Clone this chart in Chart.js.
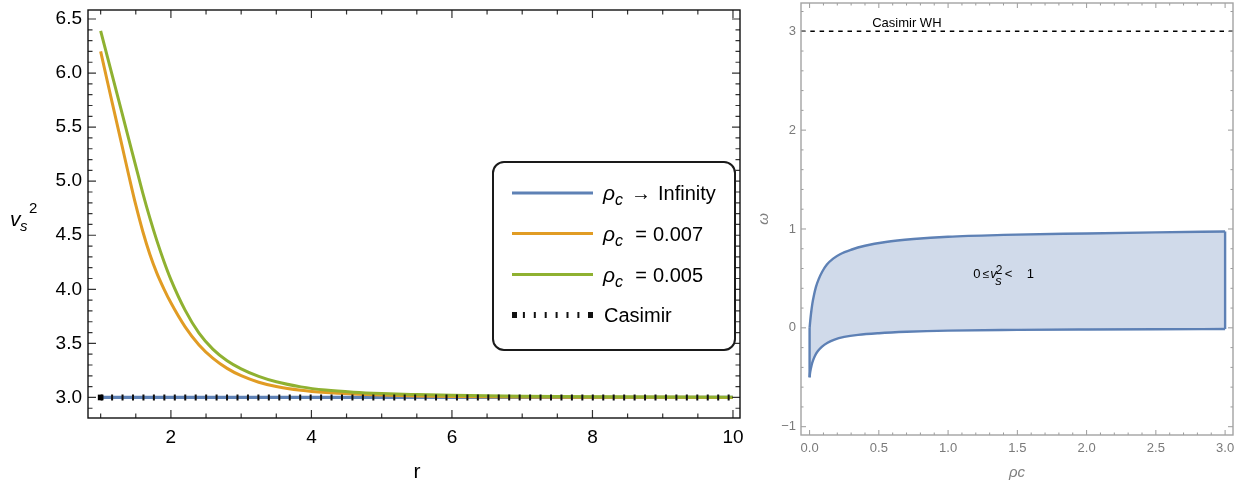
<!DOCTYPE html>
<html>
<head>
<meta charset="utf-8">
<script src="https://cdn.jsdelivr.net/npm/chart.js@4"></script>
<style>
  body { margin: 0; background: #fff; width: 1248px; height: 484px; overflow: hidden; position: relative; }
  #left { position: absolute; left: 0; top: 0; width: 760px; height: 484px; }
  #right { position: absolute; left: 760px; top: 0; width: 488px; height: 484px; }
</style>
</head>
<body>
<canvas id="left" width="760" height="484"></canvas>
<canvas id="right" width="488" height="484"></canvas>
<script>
// ---- left panel: v_s^2 against r ----
const rGrid = [1.0, 1.1, 1.2, 1.3, 1.4, 1.5, 1.6, 1.7, 1.8, 1.9, 2.0, 2.2, 2.4, 2.6, 2.8, 3.0,
  3.25, 3.5, 3.85, 4.2, 4.6, 5.0, 5.5, 6.0, 7.0, 8.0, 9.0, 10.0];
const vsRho007 = [6.20, 5.91, 5.625, 5.34, 5.055, 4.78, 4.535, 4.325, 4.15, 4.005, 3.875, 3.655, 3.485, 3.361, 3.269, 3.201,
  3.141, 3.101, 3.066, 3.045, 3.031, 3.022, 3.014, 3.009, 3.004, 3.002, 3.001, 3.0];
const vsRho005 = [6.39, 6.14, 5.89, 5.64, 5.39, 5.14, 4.89, 4.66, 4.45, 4.26, 4.09, 3.81, 3.595, 3.445, 3.34, 3.265,
  3.195, 3.145, 3.098, 3.068, 3.048, 3.036, 3.027, 3.02, 3.012, 3.007, 3.004, 3.003];
const rEnds = [1, 10];
const vsInfinity = [3, 3];
const vsCasimir = [3, 3];

const leftXMajor = [2, 4, 6, 8, 10];
const leftYMajor = [3.0, 3.5, 4.0, 4.5, 5.0, 5.5, 6.0, 6.5];

const legendOps = ['\u2192', '=', '=', ''];
const legendValues = ['Infinity', '0.007', '0.005', 'Casimir'];

// ---- right panel: omega against rho_c ----
const rhoUpper = [0, 0.005, 0.01, 0.02, 0.03, 0.045, 0.065, 0.09, 0.125, 0.17, 0.22, 0.3, 0.4, 0.55, 0.75, 1.0, 1.4, 2.0, 2.5, 3.0];
const omegaUpper = [0, 0.075, 0.14, 0.245, 0.32, 0.41, 0.49, 0.565, 0.64, 0.7, 0.745, 0.79, 0.83, 0.868, 0.898, 0.922, 0.94, 0.955, 0.966, 0.975];
const rhoLower = [0, 0.003, 0.008, 0.015, 0.025, 0.04, 0.06, 0.09, 0.13, 0.18, 0.25, 0.35, 0.5, 0.7, 1.0, 1.5, 2.0, 2.5, 3.0];
const omegaLower = [-0.5, -0.46, -0.42, -0.375, -0.33, -0.28, -0.235, -0.19, -0.15, -0.118, -0.092, -0.071, -0.054,
  -0.04, -0.028, -0.021, -0.017, -0.014, -0.012];
const casimirWH = 3;

const rightXMajor = [0, 0.5, 1.0, 1.5, 2.0, 2.5, 3.0];
const rightYMajor = [-1, 0, 1, 2, 3];

const FONT = '"Liberation Sans", Arial, sans-serif';
const BLUE = '#5e81b5', ORANGE = '#e19c24', GREEN = '#8fb131';

const pts = (xs, ys) => xs.map((x, i) => ({ x, y: ys[i] }));
function steps(from, to, step) {
  const out = [];
  for (let v = from; v <= to + 1e-9; v += step) out.push(Math.round(v * 1000) / 1000);
  return out;
}

function axis(min, max, ticks, fmt, font, color, pad, size, horiz) {
  return {
    type: 'linear', min, max,
    grid: { display: false, drawTicks: false },
    border: { display: false },
    afterBuildTicks: s => { s.ticks = ticks.map(v => ({ value: v })); },
    afterFit: s => {
      if (horiz) s.height = size; else s.width = size;
      s.paddingLeft = s.paddingRight = s.paddingTop = s.paddingBottom = 0;
    },
    ticks: { callback: fmt, font, color, padding: pad, maxRotation: 0, autoSkip: false }
  };
}

// frame with inward ticks on all four sides (Mathematica style)
function framePlugin(cfg) {
  return {
    id: 'frame',
    afterDraw(chart) {
      const { ctx, chartArea: a, scales: { x, y } } = chart;
      ctx.save();
      ctx.strokeStyle = cfg.tickColor;
      ctx.lineWidth = cfg.tickWidth;
      ctx.beginPath();
      const xt = (vals, len) => vals.forEach(v => {
        const p = x.getPixelForValue(v);
        ctx.moveTo(p, a.bottom); ctx.lineTo(p, a.bottom - len);
        ctx.moveTo(p, a.top); ctx.lineTo(p, a.top + len);
      });
      const yt = (vals, len) => vals.forEach(v => {
        const p = y.getPixelForValue(v);
        ctx.moveTo(a.left, p); ctx.lineTo(a.left + len, p);
        ctx.moveTo(a.right, p); ctx.lineTo(a.right - len, p);
      });
      xt(cfg.xMajor, cfg.major); xt(cfg.xMinor, cfg.minor);
      yt(cfg.yMajor, cfg.major); yt(cfg.yMinor, cfg.minor);
      ctx.stroke();
      ctx.strokeStyle = cfg.frameColor;
      ctx.lineWidth = cfg.frameWidth;
      ctx.strokeRect(a.left, a.top, a.width, a.height);
      ctx.restore();
    }
  };
}

const leftText = {
  id: 'leftText',
  afterDraw(chart) {
    const { ctx, chartArea: a } = chart;
    ctx.save();
    ctx.fillStyle = '#000';
    ctx.textBaseline = 'alphabetic';
    // axis titles
    ctx.font = 'italic 21px ' + FONT;
    ctx.fillText('v', 10, 226);
    ctx.font = 'italic 15px ' + FONT;
    ctx.fillText('s', 20, 231);
    ctx.font = '15px ' + FONT;
    ctx.fillText('2', 29, 213);
    ctx.font = '21px ' + FONT;
    ctx.textAlign = 'center';
    ctx.fillText('r', (a.left + a.right) / 2 + 3, 478);
    ctx.textAlign = 'left';

    // legend box
    const bx = 493, by = 162, bw = 242, bh = 188;
    ctx.beginPath();
    ctx.roundRect(bx, by, bw, bh, 11);
    ctx.fillStyle = '#fff';
    ctx.fill();
    ctx.lineWidth = 2;
    ctx.strokeStyle = '#1a1a1a';
    ctx.stroke();

    const rows = [193, 233.5, 274.5, 315];
    const colors = [BLUE, ORANGE, GREEN, '#111'];
    rows.forEach((ry, i) => {
      ctx.beginPath();
      if (i < 3) {
        ctx.lineWidth = 3;
        ctx.strokeStyle = colors[i];
        ctx.moveTo(512, ry); ctx.lineTo(593, ry);
        ctx.stroke();
      } else {
        ctx.fillStyle = '#111';
        ctx.fillRect(512, ry - 3, 5, 6);
        ctx.fillRect(588, ry - 3, 5, 6);
        for (let k = 1; k <= 6; k++) ctx.fillRect(512 + k * 10.9, ry - 3, 2, 6);
      }
      ctx.fillStyle = '#000';
      if (legendOps[i]) {
        ctx.font = 'italic 21px ' + FONT;
        ctx.fillText('\u03c1', 603, ry + 7);
        ctx.font = 'italic 16px ' + FONT;
        ctx.fillText('c', 615, ry + 12);
        ctx.font = '20px ' + FONT;
        ctx.textAlign = 'center';
        ctx.fillText(legendOps[i], 641, ry + 7);
        ctx.textAlign = 'left';
        ctx.fillText(legendValues[i], i === 0 ? 658 : 653, ry + 7);
      } else {
        ctx.font = '20px ' + FONT;
        ctx.fillText(legendValues[i], 604, ry + 7);
      }
    });
    ctx.restore();
  }
};

new Chart(document.getElementById('left'), {
  type: 'line',
  data: {
    datasets: [
      { data: pts(rEnds, vsCasimir), borderColor: '#111', borderWidth: 6, borderDash: [2, 8.45],
        borderCapStyle: 'butt', order: 0, pointStyle: 'rect', pointBackgroundColor: '#000', pointBorderWidth: 0,
        pointRadius: c => c.dataIndex === 0 ? 4 : 0 },
      { data: pts(rGrid, vsRho005), borderColor: GREEN, borderWidth: 3, cubicInterpolationMode: 'monotone', order: 1, pointRadius: 0 },
      { data: pts(rGrid, vsRho007), borderColor: ORANGE, borderWidth: 3, cubicInterpolationMode: 'monotone', order: 2, pointRadius: 0 },
      { data: pts(rEnds, vsInfinity), borderColor: BLUE, borderWidth: 3.2, order: 3, pointRadius: 0 }
    ]
  },
  options: {
    responsive: false, animation: false,
    layout: { autoPadding: false, padding: { top: 10, right: 20, left: 0, bottom: 0 } },
    plugins: { legend: { display: false }, tooltip: { enabled: false } },
    scales: {
      x: axis(0.82, 10.1, leftXMajor, v => String(v), { size: 19, family: FONT }, '#000', 8, 66, true),
      y: axis(2.81, 6.583, leftYMajor, v => v.toFixed(1), { size: 19, family: FONT }, '#000', 6, 88, false)
    }
  },
  plugins: [framePlugin({
    xMajor: leftXMajor, xMinor: steps(1, 10, 0.5).filter(v => !leftXMajor.includes(v)),
    yMajor: leftYMajor, yMinor: steps(2.9, 6.5, 0.1).filter(v => !leftYMajor.some(m => Math.abs(m - v) < 1e-6)),
    major: 8, minor: 4.5, tickColor: '#333', tickWidth: 1.2, frameColor: '#111', frameWidth: 1.4
  }), leftText]
});

const rightText = {
  id: 'rightText',
  afterDraw(chart) {
    const { ctx, scales: { x, y } } = chart;
    ctx.save();
    ctx.fillStyle = '#000';
    ctx.font = '13px ' + FONT;
    ctx.fillText('Casimir WH', x.getPixelForValue(0.452), y.getPixelForValue(3.04));

    const ax = x.getPixelForValue(1.181), ay = y.getPixelForValue(0.503);
    ctx.fillText('0', ax, ay);
    ctx.font = '12px ' + FONT;
    ctx.fillText('\u2264', ax + 9.5, ay);
    ctx.font = 'italic 13px ' + FONT;
    ctx.fillText('v', ax + 17, ay);
    ctx.fillText('s', ax + 22, ay + 6.5);
    ctx.font = '12px ' + FONT;
    ctx.fillText('2', ax + 22.5, ay - 4.5);
    ctx.font = '13px ' + FONT;
    ctx.fillText('<', ax + 31.5, ay);
    ctx.fillText('1', ax + 53.5, ay);

    // axis titles
    ctx.fillStyle = '#808080';
    ctx.font = 'italic 15px ' + FONT;
    ctx.textAlign = 'center';
    ctx.fillText('\u03c1c', 257, 477);
    ctx.translate(8, 219);
    ctx.rotate(-Math.PI / 2);
    ctx.fillText('\u03c9', 0, 0);
    ctx.restore();
  }
};

new Chart(document.getElementById('right'), {
  type: 'line',
  data: {
    datasets: [
      { data: pts(rhoUpper, omegaUpper), borderColor: BLUE, borderWidth: 2.4, cubicInterpolationMode: 'monotone',
        fill: '+1', backgroundColor: 'rgba(94,129,181,0.29)', pointRadius: 0 },
      { data: pts(rhoLower, omegaLower), borderColor: BLUE, borderWidth: 2.4, cubicInterpolationMode: 'monotone', pointRadius: 0 },
      { data: pts([0, 0], [omegaLower[0], omegaUpper[0]]), borderColor: BLUE, borderWidth: 2.4, pointRadius: 0 },
      { data: pts([3, 3], [omegaLower[omegaLower.length - 1], omegaUpper[omegaUpper.length - 1]]), borderColor: BLUE, borderWidth: 2.4, pointRadius: 0 },
      { data: pts([-0.062, 3.057], [casimirWH, casimirWH]), borderColor: '#000', borderWidth: 1.3, borderDash: [4.5, 4.8], pointRadius: 0 }
    ]
  },
  options: {
    responsive: false, animation: false,
    layout: { autoPadding: false, padding: { top: 3, right: 15, left: 0, bottom: 0 } },
    plugins: { legend: { display: false }, tooltip: { enabled: false } },
    scales: {
      x: axis(-0.062, 3.057, rightXMajor, v => v.toFixed(1), { size: 13, family: FONT }, '#7a7a7a', 6, 49, true),
      y: axis(-1.084, 3.286, rightYMajor, v => v < 0 ? '\u2212' + Math.abs(v) : String(v), { size: 13, family: FONT }, '#7a7a7a', 5, 41, false)
    }
  },
  plugins: [framePlugin({
    xMajor: rightXMajor, xMinor: steps(0, 3, 0.1).filter(v => !rightXMajor.some(m => Math.abs(m - v) < 1e-6)),
    yMajor: rightYMajor, yMinor: steps(-1, 3.2, 0.2).filter(v => !rightYMajor.some(m => Math.abs(m - v) < 1e-6)),
    major: 5, minor: 2.5, tickColor: '#9a9a9a', tickWidth: 1, frameColor: '#a3a3a3', frameWidth: 1.4
  }), rightText]
});
</script>
</body>
</html>
